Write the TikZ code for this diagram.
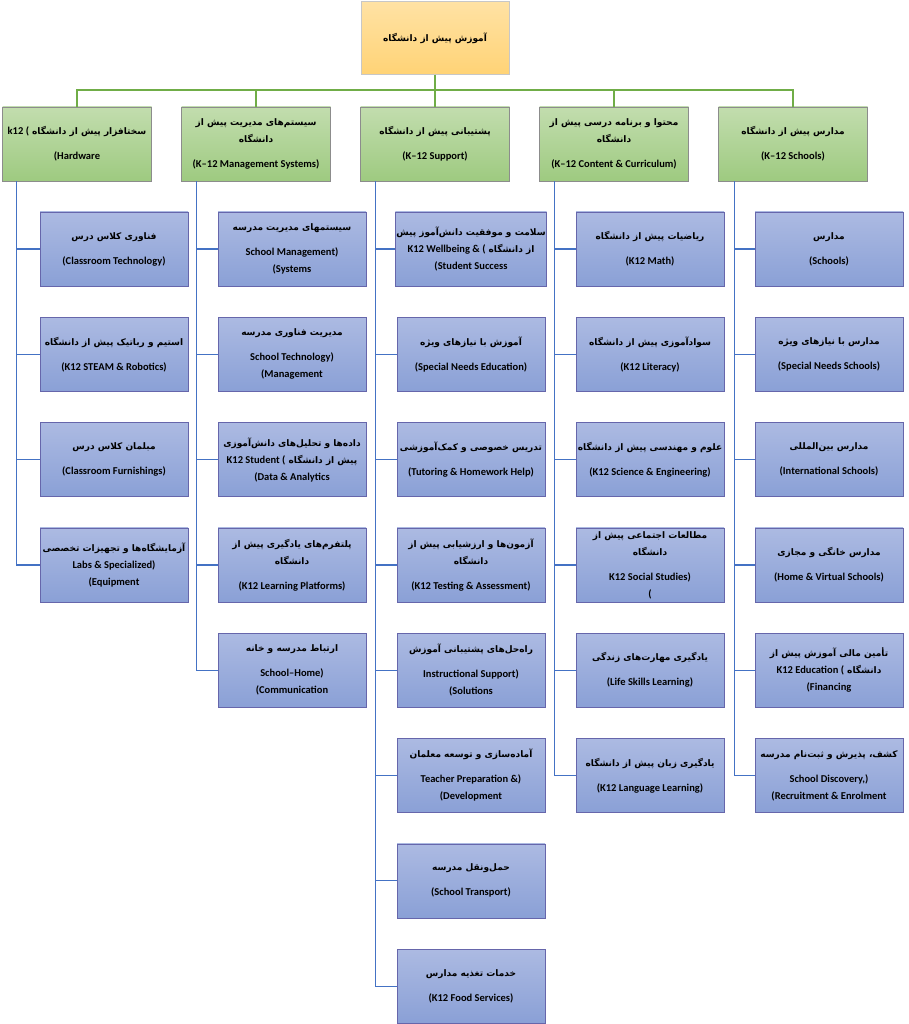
\documentclass[tikz,border=0pt]{standalone}
\usepackage{fontspec}
\setmainfont{Carlito}
\newfontfamily\persianfont[Script=Arabic,Scale=0.86]{DejaVu Sans}
\TeXXeTstate=1
\newcommand{\fa}[1]{{\persianfont\beginR#1\endR}}
\newcommand{\famix}[2]{{\persianfont\beginR#1 \beginL\normalfont\bfseries#2\endL\endR}}

\definecolor{topfillA}{RGB}{255,226,164}
\definecolor{topfillB}{RGB}{255,211,118}
\definecolor{headfillA}{RGB}{194,221,174}
\definecolor{headfillB}{RGB}{158,202,128}
\definecolor{itemfillA}{RGB}{172,186,226}
\definecolor{itemfillB}{RGB}{138,160,214}
\definecolor{lineblue}{RGB}{68,114,196}
\definecolor{linegreen}{RGB}{112,173,71}

\tikzset{
  topbox/.style={draw=black!22, top color=topfillA, bottom color=topfillB,
    minimum width=148pt, minimum height=73pt, align=center, inner sep=1pt},
  headbox/.style={draw=black!45, top color=headfillA, bottom color=headfillB,
    minimum width=149pt, minimum height=74pt, align=center, inner sep=1pt},
  itembox/.style={draw=black!55!blue!60, top color=itemfillA, bottom color=itemfillB,
    minimum width=148pt, minimum height=74pt, align=center, inner sep=1pt},
  greenline/.style={draw=linegreen, line width=1.4pt},
  blueline/.style={draw=lineblue, line width=1.2pt},
}

\begin{document}
\begin{tikzpicture}[x=1pt,y=-1pt,font=\fontsize{10.5}{17}\selectfont\bfseries]
\useasboundingbox (0,0) rectangle (909,1024);

% root
\node[topbox] (root) at (435,38) {\fa{آموزش پیش از دانشگاه}};

% column heads
\node[headbox] (h1) at (77,144) {\famix{سختافزار پیش از دانشگاه}{k12 (}\\[8pt](Hardware};
\node[headbox] (h2) at (256,144) {\fa{سیستم‌های مدیریت پیش از}\\\fa{دانشگاه}\\[8pt](K–12 Management Systems)};
\node[headbox] (h3) at (435,144) {\fa{پشتیبانی پیش از دانشگاه}\\[8pt](K–12 Support)};
\node[headbox] (h4) at (614,144) {\fa{محتوا و برنامه درسی پیش از}\\\fa{دانشگاه}\\[8pt](K–12 Content \& Curriculum)};
\node[headbox] (h5) at (793,144) {\fa{مدارس پیش از دانشگاه}\\[8pt](K–12 Schools)};

\coordinate (bus) at (435,90);
\draw[greenline] (root.south) -- (root.south |- bus);
\draw[greenline] (h1.north) -- (h1.north |- bus) -- (h5.north |- bus) -- (h5.north);
\draw[greenline] (h2.north) -- (h2.north |- bus);
\draw[greenline] (h3.north) -- (h3.north |- bus);
\draw[greenline] (h4.north) -- (h4.north |- bus);

% hardware
\node[itembox] (c11) at (114,249) {\fa{فناوری کلاس درس}\\[8pt](Classroom Technology)};
\node[itembox] (c12) at (114,354.3) {\fa{استیم و رباتیک پیش از دانشگاه}\\[8pt](K12 STEAM \& Robotics)};
\node[itembox] (c13) at (114,459.6) {\fa{مبلمان کلاس درس}\\[8pt](Classroom Furnishings)};
\node[itembox] (c14) at (114,564.9) {\fa{آزمایشگاه‌ها و تجهیزات تخصصی}\\Labs \& Specialized)\\(Equipment};

% management systems
\node[itembox] (c21) at (292,249) {\fa{سیستمهای مدیریت مدرسه}\\[8pt]School Management)\\(Systems};
\node[itembox] (c22) at (292,354.3) {\fa{مدیریت فناوری مدرسه}\\[8pt]School Technology)\\(Management};
\node[itembox] (c23) at (292,459.6) {\fa{داده‌ها و تحلیل‌های دانش‌آموزی}\\\famix{پیش از دانشگاه}{K12 Student (}\\(Data \& Analytics};
\node[itembox] (c24) at (292,564.9) {\fa{پلتفرم‌های یادگیری پیش از}\\\fa{دانشگاه}\\[8pt](K12 Learning Platforms)};
\node[itembox] (c25) at (292,670.2) {\fa{ارتباط مدرسه و خانه}\\[8pt]School–Home)\\(Communication};

% support
\node[itembox] (c31) at (471,249) {\fa{سلامت و موفقیت دانش‌آموز پیش}\\\famix{از دانشگاه}{K12 Wellbeing \& (}\\(Student Success};
\node[itembox] (c32) at (471,354.3) {\fa{آموزش با نیازهای ویژه}\\[8pt](Special Needs Education)};
\node[itembox] (c33) at (471,459.6) {\fa{تدریس خصوصی و کمک‌آموزشی}\\[8pt](Tutoring \& Homework Help)};
\node[itembox] (c34) at (471,564.9) {\fa{آزمون‌ها و ارزشیابی پیش از}\\\fa{دانشگاه}\\[8pt](K12 Testing \& Assessment)};
\node[itembox] (c35) at (471,670.2) {\fa{راه‌حل‌های پشتیبانی آموزش}\\[8pt]Instructional Support)\\(Solutions};
\node[itembox] (c36) at (471,775.5) {\fa{آماده‌سازی و توسعه معلمان}\\[8pt]Teacher Preparation \&)\\(Development};
\node[itembox] (c37) at (471,880.8) {\fa{حمل‌ونقل مدرسه}\\[8pt](School Transport)};
\node[itembox] (c38) at (471,986.1) {\fa{خدمات تغذیه مدارس}\\[8pt](K12 Food Services)};

% content and curriculum
\node[itembox] (c41) at (650,249) {\fa{ریاضیات پیش از دانشگاه}\\[8pt](K12 Math)};
\node[itembox] (c42) at (650,354.3) {\fa{سوادآموزی پیش از دانشگاه}\\[8pt](K12 Literacy)};
\node[itembox] (c43) at (650,459.6) {\fa{علوم و مهندسی پیش از دانشگاه}\\[8pt](K12 Science \& Engineering)};
\node[itembox] (c44) at (650,564.9) {\fa{مطالعات اجتماعی پیش از}\\\fa{دانشگاه}\\[8pt]K12 Social Studies)\\(};
\node[itembox] (c45) at (650,670.2) {\fa{یادگیری مهارت‌های زندگی}\\[8pt](Life Skills Learning)};
\node[itembox] (c46) at (650,775.5) {\fa{یادگیری زبان پیش از دانشگاه}\\[8pt](K12 Language Learning)};

% schools
\node[itembox] (c51) at (829,249) {\fa{مدارس}\\[8pt](Schools)};
\node[itembox] (c52) at (829,354.3) {\fa{مدارس با نیازهای ویژه}\\[8pt](Special Needs Schools)};
\node[itembox] (c53) at (829,459.6) {\fa{مدارس بین‌المللی}\\[8pt](International Schools)};
\node[itembox] (c54) at (829,564.9) {\fa{مدارس خانگی و مجازی}\\[8pt](Home \& Virtual Schools)};
\node[itembox] (c55) at (829,670.2) {\fa{تأمین مالی آموزش پیش از}\\\famix{دانشگاه}{K12 Education (}\\(Financing};
\node[itembox] (c56) at (829,775.5) {\fa{کشف، پذیرش و ثبت‌نام مدرسه}\\[8pt]School Discovery,)\\(Recruitment \& Enrolment};

% blue trunks
\coordinate (t1) at ([xshift=14pt]h1.south west);
\coordinate (t2) at ([xshift=15pt]h2.south west);
\coordinate (t3) at ([xshift=15pt]h3.south west);
\coordinate (t4) at ([xshift=15pt]h4.south west);
\coordinate (t5) at ([xshift=16pt]h5.south west);

\draw[blueline] (t1) |- (c14.west);
\draw[blueline] (t1 |- c11.west) -- (c11.west);
\draw[blueline] (t1 |- c12.west) -- (c12.west);
\draw[blueline] (t1 |- c13.west) -- (c13.west);

\draw[blueline] (t2) |- (c25.west);
\draw[blueline] (t2 |- c21.west) -- (c21.west);
\draw[blueline] (t2 |- c22.west) -- (c22.west);
\draw[blueline] (t2 |- c23.west) -- (c23.west);
\draw[blueline] (t2 |- c24.west) -- (c24.west);

\draw[blueline] (t3) |- (c38.west);
\draw[blueline] (t3 |- c31.west) -- (c31.west);
\draw[blueline] (t3 |- c32.west) -- (c32.west);
\draw[blueline] (t3 |- c33.west) -- (c33.west);
\draw[blueline] (t3 |- c34.west) -- (c34.west);
\draw[blueline] (t3 |- c35.west) -- (c35.west);
\draw[blueline] (t3 |- c36.west) -- (c36.west);
\draw[blueline] (t3 |- c37.west) -- (c37.west);

\draw[blueline] (t4) |- (c46.west);
\draw[blueline] (t4 |- c41.west) -- (c41.west);
\draw[blueline] (t4 |- c42.west) -- (c42.west);
\draw[blueline] (t4 |- c43.west) -- (c43.west);
\draw[blueline] (t4 |- c44.west) -- (c44.west);
\draw[blueline] (t4 |- c45.west) -- (c45.west);

\draw[blueline] (t5) |- (c56.west);
\draw[blueline] (t5 |- c51.west) -- (c51.west);
\draw[blueline] (t5 |- c52.west) -- (c52.west);
\draw[blueline] (t5 |- c53.west) -- (c53.west);
\draw[blueline] (t5 |- c54.west) -- (c54.west);
\draw[blueline] (t5 |- c55.west) -- (c55.west);
\end{tikzpicture}
\end{document}
